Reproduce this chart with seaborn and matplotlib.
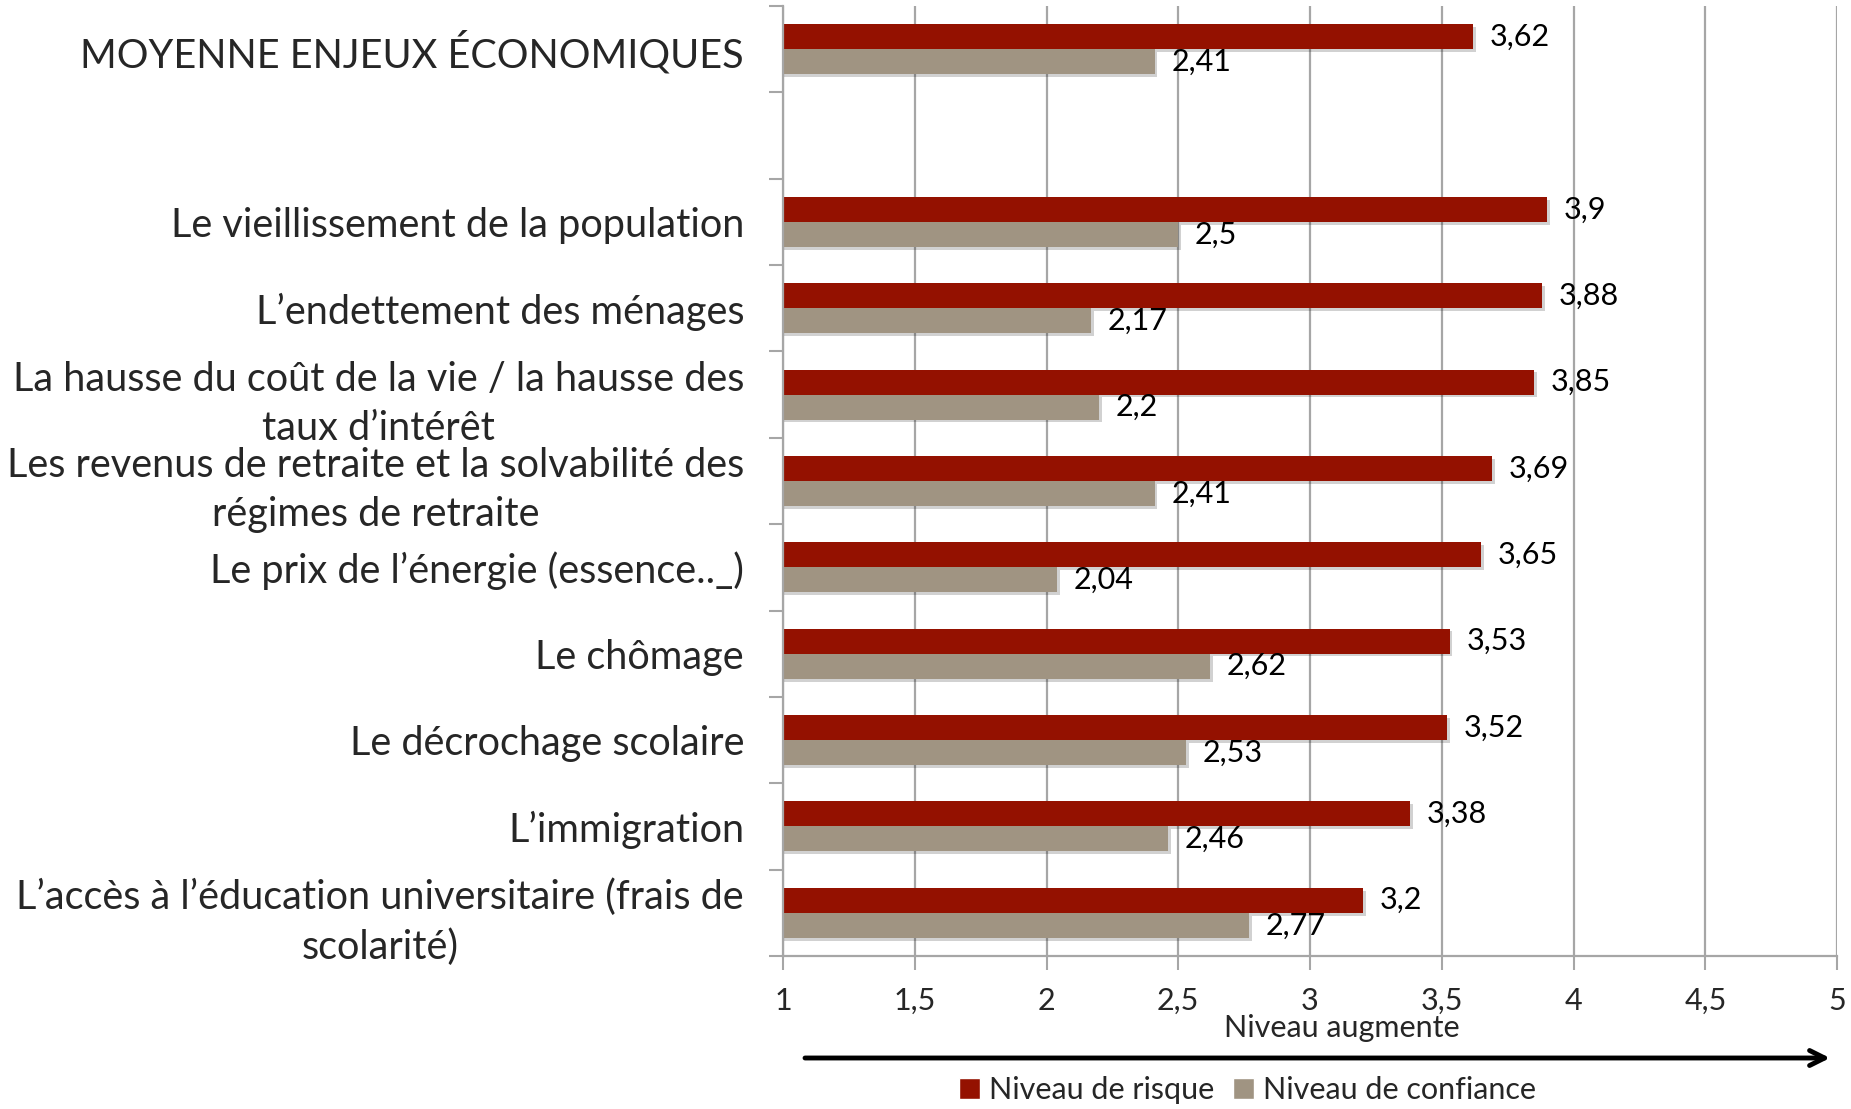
import matplotlib
matplotlib.use("Agg")
import matplotlib.pyplot as plt
import matplotlib.patheffects as pe
from matplotlib.ticker import FixedLocator, FuncFormatter
import numpy as np
import pandas as pd
import seaborn as sns

# Enjeux économiques : niveau de risque et niveau de confiance (échelle 1 à 5)
categories = [
    "MOYENNE ENJEUX ÉCONOMIQUES",
    " ",
    "Le vieillissement de la population",
    "L’endettement des ménages",
    "La hausse du coût de la vie / la hausse des\ntaux d’intérêt",
    "Les revenus de retraite et la solvabilité des\nrégimes de retraite",
    "Le prix de l’énergie (essence.._)",
    "Le chômage",
    "Le décrochage scolaire",
    "L’immigration",
    "L’accès à l’éducation universitaire (frais de\nscolarité)",
]
risque = [3.62, np.nan, 3.9, 3.88, 3.85, 3.69, 3.65, 3.53, 3.52, 3.38, 3.2]
confiance = [2.41, np.nan, 2.5, 2.17, 2.2, 2.41, 2.04, 2.62, 2.53, 2.46, 2.77]
series = ["Niveau de risque", "Niveau de confiance"]
colors = ["#941100", "#A09482"]
x_ticks = [1, 1.5, 2, 2.5, 3, 3.5, 4, 4.5, 5]

sns.set_theme(style="white")
plt.rcParams["font.family"] = ["Lato", "DejaVu Sans"]

rows = []
for cat, r, c in zip(categories, risque, confiance):
    if not np.isnan(r):
        rows.append({"cat": cat, "serie": series[0], "val": r})
    if not np.isnan(c):
        rows.append({"cat": cat, "serie": series[1], "val": c})
df = pd.DataFrame(rows)

fig = plt.figure(figsize=(18.51, 11.09), dpi=100)
ax = fig.add_axes([0.423, 0.138, 0.5695, 0.8566])

sns.barplot(data=df, y="cat", x="val", hue="serie", order=categories,
            hue_order=series, palette=colors, orient="h", width=0.58,
            dodge=True, saturation=1, errorbar=None, ax=ax, legend=True)

shadow = [pe.SimplePatchShadow(offset=(2, -2), shadow_rgbFace="#000000", alpha=0.18), pe.Normal()]
for cont in ax.containers:
    for p in cont:
        p.set_edgecolor("none")
        p.set_path_effects(shadow)
    ax.bar_label(cont, fmt=lambda v: f"{v:g}".replace(".", ","), padding=12,
                 fontsize=22, color="black")

ax.set_xlim(1, 5)
ax.set_ylim(len(categories) - 0.5, -0.5)
ax.xaxis.set_major_locator(FixedLocator(x_ticks))
ax.xaxis.set_major_formatter(FuncFormatter(lambda v, _: f"{v:g}".replace(".", ",")))
ax.grid(axis="x", color="#A6A6A6", linewidth=1.6)
ax.set_axisbelow(True)

ax.set_ylabel("")
ax.set_xlabel("")
fig.text(1342 / 1851, 1 - 1028 / 1109, "Niveau augmente", fontsize=22,
         ha="center", va="center")

ax.tick_params(axis="x", which="major", direction="out", length=10, width=1.5,
               color="#A6A6A6", labelsize=22, pad=12, bottom=True)
ax.tick_params(axis="y", which="major", length=0, labelsize=28.5, pad=28)
for lbl in ax.get_yticklabels():
    lbl.set_multialignment("center")
    lbl.set_linespacing(1.4)
ax.yaxis.set_minor_locator(FixedLocator(np.arange(-0.5, len(categories), 1.0)))
ax.tick_params(axis="y", which="minor", direction="out", length=10, width=1.5,
               color="#A6A6A6", left=True)

for side in ["top", "right"]:
    ax.spines[side].set_visible(False)
for side in ["left", "bottom"]:
    ax.spines[side].set_color("#A6A6A6")
    ax.spines[side].set_linewidth(1.6)

leg = ax.get_legend()
handles, labels = leg.legend_handles, [t.get_text() for t in leg.get_texts()]
leg.remove()
fig.legend(handles, labels, loc="center", bbox_to_anchor=(0.674, 0.017), ncol=2,
           frameon=False, fontsize=22, handlelength=0.7, handleheight=0.7,
           handletextpad=0.3, columnspacing=0.6)

ax.annotate("", xy=(1830 / 1851, 1 - 1058 / 1109), xytext=(805 / 1851, 1 - 1058 / 1109),
            xycoords="figure fraction", textcoords="figure fraction",
            arrowprops=dict(arrowstyle="->,head_length=0.9,head_width=0.45",
                            color="black", linewidth=3.5, shrinkA=0, shrinkB=0))

fig.savefig("out.png", dpi=100)
